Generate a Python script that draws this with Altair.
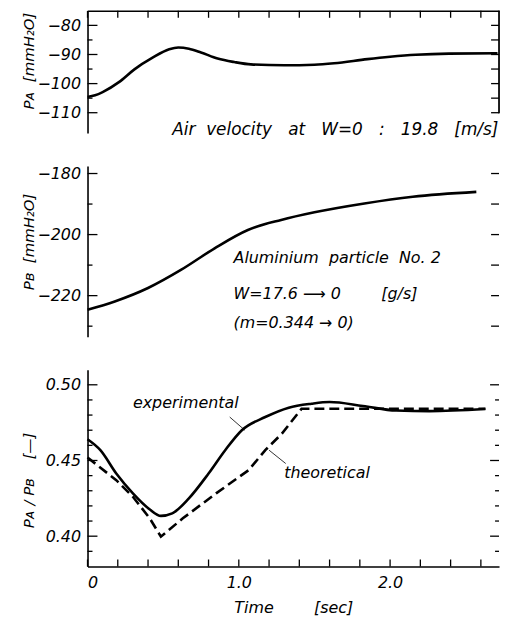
import altair as alt
import pandas as pd

# ---------------- data ----------------
time_ticks = [0.0, 0.2, 0.4, 0.6, 0.8, 1.0, 1.2, 1.4, 1.6, 1.8, 2.0, 2.2, 2.4, 2.6]
time_labels = [0.0, 1.0, 2.0]

pa_time = [0.0, 0.05, 0.10, 0.21, 0.31, 0.43, 0.54, 0.60, 0.67, 0.75, 0.86, 0.97,
           1.08, 1.30, 1.50, 1.63, 1.85, 2.00, 2.17, 2.39, 2.71]
pa_val = [-104.6, -104.0, -102.9, -99.4, -95.1, -91.1, -88.2, -87.6, -88.0, -89.3,
          -91.4, -92.6, -93.4, -93.7, -93.5, -93.0, -91.6, -90.8, -90.1, -89.7, -89.6]
pa_major = [-80, -90, -100, -110]
pa_minor = [-85, -95, -105]

pb_time = [0.0, 0.18, 0.40, 0.62, 0.84, 1.06, 1.28, 1.50, 1.83, 2.15, 2.57]
pb_val = [-224.6, -221.9, -217.5, -211.5, -204.5, -198.5, -195.2, -192.7, -189.8,
          -187.6, -186.0]
pb_major = [-180, -200, -220]
pb_minor = [-190, -210, -230]

exp_time = [0.0, 0.085, 0.19, 0.30, 0.41, 0.485, 0.56, 0.67, 0.80, 0.91, 1.02,
            1.175, 1.33, 1.48, 1.60, 1.82, 2.04, 2.26, 2.63]
exp_val = [0.464, 0.4568, 0.4414, 0.4283, 0.4178, 0.4134, 0.4151, 0.425, 0.4414,
           0.4568, 0.470, 0.4787, 0.4849, 0.4875, 0.4886, 0.486, 0.483, 0.4826, 0.484]

th_time = [0.0, 0.19, 0.30, 0.41, 0.485, 0.63, 0.85, 1.065, 1.175, 1.285, 1.415, 2.63]
th_val = [0.452, 0.437, 0.426, 0.412, 0.3997, 0.4118, 0.4283, 0.4436, 0.4568,
          0.4678, 0.4842, 0.4842]
ratio_major = [0.40, 0.45, 0.50]
ratio_minor = [0.39, 0.41, 0.42, 0.43, 0.44, 0.46, 0.47, 0.48, 0.49]

NB = "\u00a0"
# annotations (text, time, value)
top_note = [f"Air{NB*2}velocity{NB*3}at{NB*3}W=0{NB*3}:{NB*3}19.8{NB*3}[m/s]"]
top_note_t = [0.56]
top_note_v = [-116.0]

mid_notes = [f"Aluminium{NB*2}particle{NB*2}No.{NB}2",
             f"W=17.6{NB}⟶{NB}0{NB*8}[g/s]",
             f"(m=0.344{NB}→{NB}0)"]
mid_notes_t = [0.965, 0.965, 0.965]
mid_notes_v = [-207.8, -219.5, -229.0]

bot_notes = ["experimental", "theoretical"]
bot_notes_t = [0.30, 1.30]
bot_notes_v = [0.4877, 0.4417]
lead_t = [0.94, 1.04, 1.20, 1.31]
lead_v = [0.4787, 0.470, 0.4568, 0.448]
lead_id = ["e", "e", "t", "t"]

# ---------------- layout / style ----------------
FONT = "DejaVu Sans"
FS = 16
W = 414
H1, H2, H3 = 123, 172, 198
X_DOM = [0, 2.72]
xs = alt.Scale(domain=X_DOM, nice=False, zero=False)
TITLE_X = -51
LW = 2.6


def main_y_axis(values, title, fmt, title_y):
    return alt.Axis(orient="left", values=values, ticks=False, domain=True,
                    domainColor="black", domainWidth=1.6, grid=False,
                    labelFont=FONT, labelFontSize=FS, labelFontStyle="italic",
                    labelColor="black", labelPadding=7, format=fmt,
                    title=title, titleFont=FONT, titleFontSize=15,
                    titleFontStyle="italic", titleFontWeight="normal",
                    titleColor="black", titleX=TITLE_X, titleY=title_y)


def y_tick_rules(values, ys, x0, x1):
    return alt.Chart(pd.DataFrame({"v": values})).mark_rule(
        color="black", strokeWidth=1.3).encode(
        y=alt.Y("v:Q", scale=ys, axis=None),
        x=alt.value(x0), x2=alt.value(x1))


def x_tick_rules(values, y0, y1):
    return alt.Chart(pd.DataFrame({"t": values})).mark_rule(
        color="black", strokeWidth=1.3).encode(
        x=alt.X("t:Q", scale=xs, axis=None),
        y=alt.value(y0), y2=alt.value(y1))


def notes(df, ys, size=16):
    return alt.Chart(df).mark_text(font=FONT, fontSize=size, fontStyle="italic",
                                   align="left", baseline="middle", color="black").encode(
        x=alt.X("t:Q", scale=xs, axis=None),
        y=alt.Y("v:Q", scale=ys, axis=None),
        text="label:N",
    )


# ---------------- panel 1 : P_A ----------------
df_pa = pd.DataFrame({"t": pa_time, "v": pa_val})
ys1 = alt.Scale(domain=[-117, -75], nice=False, zero=False)
p1_line = alt.Chart(df_pa).mark_line(color="black", strokeWidth=LW,
                                     interpolate="monotone").encode(
    x=alt.X("t:Q", scale=xs,
            axis=alt.Axis(orient="top", values=time_ticks, ticks=False,
                          labels=False, domain=True, domainColor="black",
                          domainWidth=1.6, grid=False, title=None)),
    y=alt.Y("v:Q", scale=ys1,
            axis=main_y_axis(pa_major, f"Pᴀ{NB*2}[mmH₂O]", "d", 50)),
)
p1_right = alt.Chart(pd.DataFrame({"v": [-117, -75]})).mark_rule(
    color="black", strokeWidth=1.3).encode(
    x=alt.value(W), y=alt.value(0), y2=alt.value(H1 - 20))
p1 = alt.layer(
    p1_line,
    y_tick_rules(pa_major, ys1, 0, 10),
    y_tick_rules(pa_minor, ys1, 0, 5),
    y_tick_rules(pa_major + pa_minor, ys1, W - 8, W),
    x_tick_rules(time_ticks, 0, 7),
    p1_right,
    notes(pd.DataFrame({"t": top_note_t, "v": top_note_v, "label": top_note}), ys1, 17),
).resolve_axis(x="independent", y="independent").properties(width=W, height=H1)

# ---------------- panel 2 : P_B ----------------
df_pb = pd.DataFrame({"t": pb_time, "v": pb_val})
ys2 = alt.Scale(domain=[-233.5, -177.5], nice=False, zero=False)
p2_line = alt.Chart(df_pb).mark_line(color="black", strokeWidth=LW,
                                     interpolate="monotone").encode(
    x=alt.X("t:Q", scale=xs, axis=None),
    y=alt.Y("v:Q", scale=ys2,
            axis=main_y_axis(pb_major, f"Pʙ{NB*2}[mmH₂O]", "d", 76)),
)
p2 = alt.layer(
    p2_line,
    y_tick_rules(pb_major, ys2, 0, 10),
    y_tick_rules(pb_minor, ys2, 0, 5),
    y_tick_rules(pb_major + pb_minor, ys2, W - 8, W),
    notes(pd.DataFrame({"t": mid_notes_t, "v": mid_notes_v, "label": mid_notes}), ys2),
).resolve_axis(x="independent", y="independent").properties(width=W, height=H2)

# ---------------- panel 3 : P_A / P_B ----------------
df_exp = pd.DataFrame({"t": exp_time, "v": exp_val})
df_th = pd.DataFrame({"t": th_time, "v": th_val})
ys3 = alt.Scale(domain=[0.38, 0.51], nice=False, zero=False)

p3_exp = alt.Chart(df_exp).mark_line(color="black", strokeWidth=LW,
                                     interpolate="monotone").encode(
    x=alt.X("t:Q", scale=xs,
            axis=alt.Axis(orient="bottom", values=time_labels, ticks=False,
                          domain=True, domainColor="black", domainWidth=1.6,
                          grid=False, labelFont=FONT, labelFontSize=16,
                          labelFontStyle="italic", labelColor="black",
                          labelPadding=8,
                          labelExpr="datum.value == 0 ? '0' : format(datum.value, '.1f')",
                          title=f"Time{NB*8}[sec]", titleFont=FONT,
                          titleFontSize=16, titleFontStyle="italic",
                          titleFontWeight="normal", titleColor="black",
                          titlePadding=9)),
    y=alt.Y("v:Q", scale=ys3,
            axis=main_y_axis(ratio_major, f"Pᴀ{NB}/{NB}Pʙ{NB*4}[—]", ".2f", 111)),
)
p3_th = alt.Chart(df_th).mark_line(color="black", strokeWidth=LW,
                                   strokeDash=[10, 5]).encode(
    x=alt.X("t:Q", scale=xs, axis=None),
    y=alt.Y("v:Q", scale=ys3, axis=None),
)
p3_lead = alt.Chart(pd.DataFrame({"t": lead_t, "v": lead_v, "id": lead_id})).mark_line(
    color="black", strokeWidth=0.8).encode(
    x=alt.X("t:Q", scale=xs, axis=None),
    y=alt.Y("v:Q", scale=ys3, axis=None),
    detail="id:N",
)
p3 = alt.layer(
    p3_exp,
    p3_th,
    y_tick_rules(ratio_major, ys3, 0, 10),
    y_tick_rules(ratio_minor, ys3, 0, 5),
    y_tick_rules(ratio_major, ys3, W - 9, W),
    y_tick_rules(ratio_minor, ys3, W - 4, W),
    x_tick_rules(time_ticks, H3 - 7, H3),
    p3_lead,
    notes(pd.DataFrame({"t": bot_notes_t, "v": bot_notes_v, "label": bot_notes}), ys3),
).resolve_axis(x="independent", y="independent").properties(width=W, height=H3)

chart = alt.vconcat(p1, p2, p3, spacing=33, bounds="flush").properties(
    padding={"left": 14, "top": 0, "right": 0, "bottom": 0},
    background="white",
).configure_view(stroke=None)

chart.save("out.html", embed_options={"renderer": "svg", "actions": False})
